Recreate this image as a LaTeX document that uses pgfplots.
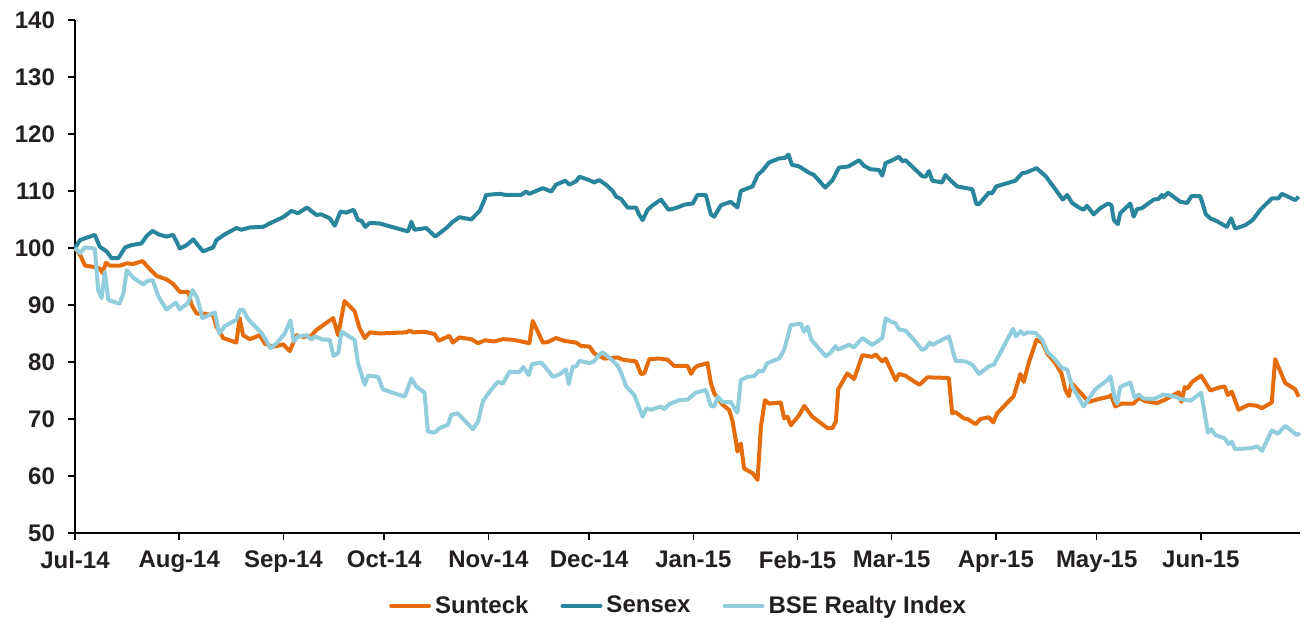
\documentclass[border=0pt]{standalone}
\usepackage{pgfplots}
\pgfplotsset{compat=1.18}
\usepackage{pgfplotstable}
\usepackage{fontspec}
\setmainfont{Liberation Sans}
\usetikzlibrary{calc}
\definecolor{cSun}{RGB}{228,108,10}
\definecolor{cSen}{RGB}{40,133,155}
\definecolor{cBse}{RGB}{146,205,221}
\definecolor{txt}{RGB}{35,31,32}

\pgfplotstableread{
x y
0 100
1.5 98.8
3 96.9
5.4 96.7
7.4 96.4
8.2 95.6
9.2 97.4
10.4 96.9
13.4 96.9
15.4 97.3
17.3 97.2
20.1 97.7
22.1 96.4
24.3 95.1
27.2 94.5
29.2 93.7
31.2 92.3
33.7 92.3
34.7 90.0
36.2 88.5
38.1 88.5
41.1 88.2
42.1 86.2
44.1 84.2
48.0 83.4
49.0 87.7
50.0 84.7
52.0 84.0
55.0 84.7
56.5 83.2
58.9 82.7
60.0 82.8
61.9 83.1
63.9 81.9
65.9 84.7
67.9 84.4
70.3 84.6
71.8 85.6
76.8 87.7
78.3 84.7
80.2 90.7
83.2 88.9
84.7 85.9
86.2 84.2
87.7 85.2
90.6 85.0
98.6 85.2
99.6 85.5
100.6 85.2
104.0 85.3
107.0 84.9
108.2 83.7
111.4 84.6
112.4 83.4
114.4 84.3
117.9 84.0
119.9 83.3
122.0 83.8
124.8 83.6
127.3 84.0
130.3 83.9
135.2 83.3
136.2 87.2
139.2 83.4
140.7 83.5
143.1 84.2
145.6 83.7
149.1 83.4
150.6 82.8
153.1 82.7
154.5 81.5
157.5 80.6
161.5 80.8
163.0 80.4
166.9 80.1
168.4 77.9
169.4 78.0
170.9 80.5
173.9 80.6
176.3 80.4
178.3 79.3
182.3 79.3
183.3 77.9
184.3 78.9
185.2 79.3
188.2 79.8
189.2 76.3
190.2 74.5
192.7 72.5
194.6 71.6
195.6 69.8
196.6 66.3
197.1 64.3
198.1 65.7
199.1 61.3
201.6 60.5
203.1 59.3
204.1 68.7
205.3 73.3
206.5 72.7
210.0 72.9
211.0 70.1
212.0 70.4
213.0 68.9
215.5 70.7
217.0 72.3
219.4 70.4
223.9 68.4
225.4 68.4
226.4 69.6
227.1 75.2
229.8 78.0
231.8 77.0
234.3 81.2
237.2 80.9
238.2 81.3
240.2 80.1
241.2 80.6
244.2 76.8
245.2 77.9
247.1 77.6
249.1 76.8
251.3 76.0
253.6 77.3
260.0 77.2
261.0 71.0
262.0 71.2
264.5 70.1
265.5 70.0
268.0 69.1
269.4 70.0
271.9 70.3
273.2 69.4
274.4 71.0
279.3 74.0
281.3 77.9
282.3 76.5
283.8 79.9
286.1 83.9
287.8 83.4
289.3 81.5
291.7 79.8
293.5 78.0
294.7 75.1
295.7 74.0
296.5 76.3
299.2 74.6
301.6 73.0
304.6 73.5
307.6 73.9
308.3 74.2
309.5 72.2
311.5 72.7
315.0 72.7
316.5 73.7
318.5 73.1
322.0 72.8
324.4 73.4
328.4 74.7
329.2 73.0
330.2 75.6
330.9 75.3
332.4 76.5
335.1 77.6
337.8 75.0
340.3 75.5
342.1 75.7
343.0 74.2
344.2 74.8
346.2 71.6
349.2 72.5
351.7 72.3
353.2 71.9
356.1 72.9
357.1 80.5
360.1 76.3
363.1 75.2
364.1 73.9
}\sunteck

\pgfplotstableread{
x y
0 100
1.5 101.4
3 101.7
5.9 102.3
7.4 100.2
9.4 99.4
10.9 98.2
12.9 98.2
14.9 100.1
16.8 100.5
19.8 100.8
21.3 102.1
23.1 103.0
24.8 102.4
27.2 102.0
29.2 102.3
31.2 99.9
33.2 100.5
35.2 101.5
36.7 100.4
38.1 99.4
41.1 100.1
42.1 101.4
44.6 102.4
48.0 103.5
49.5 103.2
52.0 103.6
56.0 103.7
57.9 104.3
61.9 105.4
64.4 106.5
66.4 106.1
69.0 107.1
71.8 105.8
73.3 105.9
75.8 105.2
77.3 103.9
79.0 106.4
80.7 106.2
82.9 106.7
84.2 104.9
85.2 104.8
86.4 103.7
87.7 104.4
90.6 104.3
99.1 102.9
100.1 104.6
101.0 103.2
104.5 103.5
107.2 102.0
110.5 103.5
112.4 104.6
114.4 105.4
117.9 105.0
120.4 106.5
121.8 108.4
122.3 109.3
126.3 109.5
128.3 109.3
132.7 109.3
134.2 109.9
135.2 109.5
139.2 110.5
141.7 109.9
143.1 111.1
145.9 111.8
147.1 111.1
149.1 111.7
150.1 112.5
152.6 112.0
154.5 111.5
156.0 111.9
158.0 111.1
160.0 110.0
161.0 109.0
162.5 108.6
164.4 107.1
166.9 107.1
167.9 105.8
168.9 104.9
170.4 106.7
171.9 107.5
174.4 108.5
176.6 106.7
178.8 107.0
181.3 107.6
183.8 107.8
185.2 109.3
187.7 109.3
189.2 105.9
190.2 105.5
192.2 107.5
195.1 108.1
197.1 107.1
198.1 110.0
201.6 110.8
203.1 112.8
204.6 113.6
206.5 115.0
209.5 115.7
211.3 115.8
212.3 116.4
213.3 114.6
215.5 114.3
218.4 113.2
219.9 112.8
223.2 110.6
225.4 111.9
227.3 114.1
230.1 114.3
233.3 115.4
234.8 114.4
236.8 113.8
239.2 113.7
240.2 112.7
241.2 114.9
243.2 115.4
245.2 116.0
246.2 115.2
247.1 115.4
249.6 114.0
252.1 112.6
253.1 112.5
254.1 113.5
255.1 111.8
258.0 111.5
259.0 112.8
261.0 111.6
262.5 110.8
267.0 110.3
268.2 107.7
269.0 107.7
271.9 109.7
272.9 109.6
274.1 110.8
279.8 111.8
281.8 113.1
283.3 113.3
286.1 114.0
288.8 112.6
291.7 110.3
293.9 108.5
295.2 109.3
296.7 107.9
298.7 107.1
300.1 106.7
301.1 107.4
303.1 105.9
305.1 107.0
307.4 107.8
308.4 107.5
309.1 104.9
310.3 104.2
311.0 106.1
314.0 107.8
315.0 105.5
316.0 106.8
317.5 107.0
321.0 108.5
322.4 108.6
323.4 109.3
323.9 108.9
325.2 109.7
328.9 108.1
330.9 107.9
332.2 109.1
334.8 109.1
336.5 105.9
337.8 105.2
339.8 104.7
342.7 103.7
344.0 105.2
345.2 103.4
348.2 104.0
350.4 104.9
352.7 106.7
356.1 108.7
358.1 108.7
359.1 109.5
363.1 108.4
364.1 109.0
}\sensex

\pgfplotstableread{
x y
0 100
1.5 99.1
3 100.1
5.9 99.9
6.9 92.6
7.9 91.2
8.9 95.8
9.9 90.9
13.2 90.2
14.4 92.0
15.4 96.1
17.3 94.8
20.3 93.6
21.5 94.2
23.1 94.4
24.8 91.5
27.2 89.2
30.0 90.4
31.2 89.2
33.7 90.4
35.0 92.6
36.4 91.2
37.9 87.7
41.6 88.7
42.9 85.0
44.6 86.3
48.0 87.4
49.0 89.1
50.0 89.2
51.5 87.5
55.5 85.1
56.8 83.9
58.1 82.4
60.0 83.3
62.4 85.0
64.1 87.3
65.1 83.6
66.4 84.5
68.9 84.7
70.3 83.9
71.3 84.5
73.8 83.9
75.8 83.9
76.9 81.1
78.3 81.5
79.3 85.3
83.2 83.9
84.2 79.8
86.2 76.0
87.2 77.6
90.2 77.4
91.6 75.2
98.1 73.9
100.1 77.1
101.5 75.7
104.0 74.6
105.0 67.8
107.0 67.6
108.5 68.4
111.0 69.0
111.9 70.7
113.9 71.0
118.4 68.2
119.9 69.5
121.4 73.2
123.8 75.1
125.8 76.5
127.3 76.2
129.3 78.3
132.2 78.2
133.4 79.1
135.0 77.7
136.0 79.6
138.7 79.9
140.2 78.9
142.2 77.4
144.1 77.8
146.1 78.7
146.9 76.1
148.1 79.2
149.1 79.2
150.1 80.2
153.1 79.8
154.5 80.1
155.5 81.0
157.0 81.7
159.5 80.5
161.5 79.3
162.5 78.1
164.0 75.7
166.4 74.2
167.4 72.7
168.9 70.4
170.1 71.9
171.4 71.6
174.4 72.2
175.3 71.7
176.8 72.6
179.8 73.3
182.3 73.4
183.8 74.2
184.7 74.6
187.7 75.1
189.2 72.3
190.2 72.2
191.2 73.9
192.7 73.0
195.1 73.0
197.1 71.1
198.1 76.8
200.1 77.4
202.1 77.5
203.6 78.5
204.6 78.3
206.0 79.8
209.5 80.6
211.0 82.1
213.0 86.5
216.0 86.7
216.9 85.3
218.0 86.2
219.0 84.0
220.4 83.0
223.4 81.0
224.9 81.7
226.3 82.8
227.1 82.2
230.3 83.0
231.8 82.6
234.3 84.2
237.2 83.0
240.2 84.2
241.2 87.7
242.7 87.1
244.2 86.8
245.2 85.7
247.1 85.5
249.6 83.9
252.1 82.1
253.1 82.4
254.3 83.4
255.1 83.0
260.0 84.5
262.0 80.2
265.0 80.1
267.0 79.5
269.0 77.9
272.1 79.3
273.4 79.5
279.1 85.8
280.0 84.5
281.3 85.4
282.3 84.8
283.3 85.2
285.8 85.1
287.8 83.9
289.3 81.8
291.7 80.4
293.7 78.9
295.2 78.7
296.7 75.7
300.1 72.2
303.6 75.2
307.1 76.8
308.1 77.5
309.4 73.5
310.1 72.7
311.0 75.6
314.0 76.4
315.3 73.7
316.5 74.3
318.0 73.6
321.0 73.5
323.9 74.3
327.4 73.9
328.9 73.5
331.9 73.2
335.1 74.6
337.1 67.6
338.1 68.2
339.3 67.2
342.1 66.6
343.2 65.6
344.2 66.0
345.2 64.7
350.2 64.9
351.7 65.2
353.2 64.4
356.1 68.0
357.9 67.4
360.1 68.8
363.5 67.2
364.5 67.5
}\bse

\begin{document}
\begin{tikzpicture}
\begin{axis}[
  scale only axis,
  width=612.5pt, height=256.5pt,
  xmin=0, xmax=364.5,
  ymin=50, ymax=140,
  ytick={50,60,...,140},
  xtick={0,31,62,92,123,153,184,215,243,274,304,335},
  xticklabels={Jul-14,Aug-14,Sep-14,Oct-14,Nov-14,Dec-14,Jan-15,Feb-15,Mar-15,Apr-15,May-15,Jun-15},
  axis x line*=bottom, axis y line*=left,
  axis line style={line width=1pt, black},
  tick align=outside,
  major tick length=3.5pt,
  tick style={line width=0.8pt, black},
  /pgf/number format/assume math mode=true,
  tick label style={font=\fontsize{12}{14.4}\selectfont\bfseries, text=txt},
  yticklabel style={xshift=-3pt},
  xticklabel style={yshift=-2pt},
  legend columns=3,
  legend style={draw=none, fill=none, at={(0.4935,-0.142)}, anchor=center,
    font=\fontsize{12}{14.4}\selectfont\bfseries, text=txt,
    /tikz/every even column/.append style={column sep=14pt},
    inner sep=0pt},
  legend image code/.code={\draw[#1, line cap=round] (0pt,0pt) -- (19pt,0pt);},
  every axis plot/.append style={line width=2pt, line join=round},
  clip=false,
]
\addplot[cSun] table[x=x,y=y]{\sunteck};
\addlegendentry{Sunteck}
\addplot[cSen] table[x=x,y=y]{\sensex};
\addlegendentry{Sensex}
\addplot[cBse] table[x=x,y=y]{\bse};
\addlegendentry{BSE Realty Index}
\coordinate (bl) at (rel axis cs:0,0);
\coordinate (tr) at (rel axis cs:1,1);
\end{axis}
\pgfresetboundingbox
\path ($(bl)+(-37.5pt,-45.5pt)$) rectangle ($(tr)+(3pt,10pt)$);
\end{tikzpicture}
\end{document}
